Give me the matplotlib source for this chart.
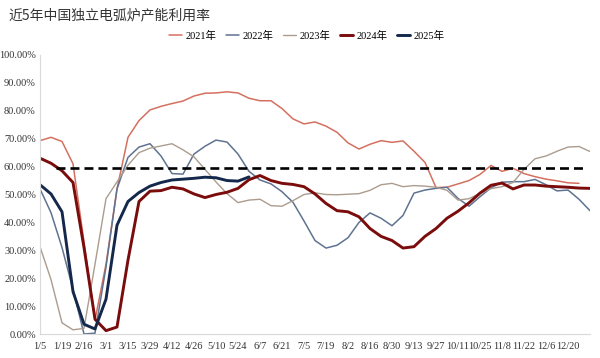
import matplotlib
matplotlib.use('Agg')
import matplotlib.pyplot as plt

# ---------------- data ----------------
categories = ['1/5', '1/12', '1/19', '1/26', '2/16', '2/23',
              '3/1', '3/8', '3/15', '3/22', '3/29', '4/5', '4/12', '4/19', '4/26',
              '5/3', '5/10', '5/17', '5/24', '5/31', '6/7', '6/14', '6/21', '6/28',
              '7/5', '7/12', '7/19', '7/26', '8/2', '8/9', '8/16', '8/23', '8/30',
              '9/6', '9/13', '9/20', '9/27', '10/4', '10/11', '10/18', '10/25',
              '11/1', '11/8', '11/15', '11/22', '11/29', '12/6', '12/13', '12/20',
              '12/27', '1/3']

tick_labels = ['1/5', '1/19', '2/16', '3/1', '3/15', '3/29', '4/12', '4/26', '5/10',
               '5/24', '6/7', '6/21', '7/5', '7/19', '8/2', '8/16', '8/30', '9/13',
               '9/27', '10/11', '10/25', '11/8', '11/22', '12/6', '12/20']

y2021 = [69.3, 70.5, 69.0, 61.0, 33.0, 5.0, 25.0, 52.0, 70.5, 76.5,
         80.3, 81.6, 82.6, 83.5, 85.3, 86.3, 86.4, 86.8, 86.4, 84.5,
         83.6, 83.6, 80.8, 77.1, 75.3, 76.0, 74.5, 72.3, 68.5, 66.3,
         68.0, 69.3, 68.7, 69.2, 65.5, 61.5, 52.5, 52.6, 53.8, 55.0,
         57.2, 60.4, 58.3, 59.4, 57.5, 56.4, 55.5, 54.9, 54.2, 54.0]

y2022 = [52.0, 43.5, 31.0, 16.0, 0.0, 0.3, 24.0, 52.0, 63.3, 67.0,
         68.2, 63.8, 57.5, 57.3, 64.5, 67.3, 69.5, 68.8, 64.5, 58.3,
         55.2, 53.8, 51.0, 47.2, 40.5, 33.5, 30.8, 31.8, 34.5, 40.0,
         43.4, 41.5, 38.8, 42.5, 50.5, 51.6, 52.2, 52.6, 48.6, 45.8,
         49.2, 52.4, 54.4, 54.6, 54.6, 55.4, 53.5, 51.3, 51.6, 48.3,
         44.2]

y2023 = [31.3, 19.5, 4.0, 1.5, 2.0, 25.0, 48.5, 54.5, 60.5, 65.0,
         66.6, 67.4, 68.2, 66.0, 63.5, 59.0, 54.5, 50.3, 47.1, 48.0,
         48.3, 46.0, 45.8, 47.8, 50.0, 50.6, 50.0, 49.9, 50.1, 50.3,
         51.5, 53.5, 54.0, 52.8, 53.2, 53.0, 52.6, 51.5, 48.0, 48.5,
         50.4, 52.1, 52.8, 54.3, 59.0, 62.8, 63.8, 65.5, 67.0, 67.2,
         65.4]

y2024 = [63.0, 61.2, 58.5, 54.3, 31.0, 5.3, 1.2, 2.5, 26.5, 47.5,
         51.2, 51.4, 52.6, 52.0, 50.2, 48.9, 50.0, 50.8, 52.2, 55.3,
         56.8, 55.0, 54.0, 53.6, 52.8, 50.2, 46.8, 44.2, 43.8, 42.0,
         37.8, 35.0, 33.5, 30.8, 31.3, 35.0, 37.8, 41.5, 44.0, 47.0,
         50.5, 53.3, 54.1, 52.0, 53.4, 53.4, 53.0, 52.8, 52.6, 52.3,
         52.2]

y2025 = [53.5, 50.2, 43.8, 15.2, 3.5, 1.8, 12.5, 39.0, 47.5, 50.7,
         53.0, 54.3, 55.2, 55.5, 55.8, 56.2, 56.0, 55.0, 54.8, 56.3]

avg_level = 59.4
avg_from, avg_to = 1.45, 49.7   # extent of the dashed reference line (category units)

series = [('2021年', y2021, '#d4705f', 1.1),
          ('2022年', y2022, '#5f7391', 1.1),
          ('2023年', y2023, '#ab9c8e', 1.0),
          ('2024年', y2024, '#7a0c0c', 2.1),
          ('2025年', y2025, '#14284c', 2.1)]

# ---------------- figure ----------------
serif = ['Liberation Serif', 'Noto Sans CJK SC']
fig = plt.figure(figsize=(6.0, 3.58), dpi=100)
ax = fig.add_axes([40/600, 1 - 334/358, 550/600, (334 - 55)/358])

for name, vals, col, lw in series:
    ax.plot(range(len(vals)), vals, color=col, lw=lw, label=name,
            solid_joinstyle='round', solid_capstyle='round')

ax.hlines(avg_level, avg_from, avg_to, colors='black', lw=1.9,
          linestyles=(0, (3.4, 1.9)), zorder=5)

ax.set_xlim(0, len(categories) - 1)
ax.set_ylim(0, 100)
ax.set_yticks(range(0, 101, 10))
ax.set_yticklabels([f'{v:.2f}%' for v in range(0, 101, 10)],
                   fontfamily=serif, fontsize=7.5, color='#333333')
ax.set_xticks([categories.index(t) for t in tick_labels])
ax.set_xticklabels(tick_labels, fontfamily=serif, fontsize=7.5, color='#333333')
ax.tick_params(axis='both', length=0)
ax.tick_params(axis='y', pad=3)
ax.tick_params(axis='x', pad=6)

for s in ['top', 'right']:
    ax.spines[s].set_visible(False)
for s in ['left', 'bottom']:
    ax.spines[s].set_color('#d9d9d9')
    ax.spines[s].set_linewidth(0.8)

fig.text(8/600, 1 - 15/358, '近5年中国独立电弧炉产能利用率', fontfamily=['Noto Sans CJK SC'],
         fontsize=10, color='#333333', va='center', ha='left')

fig.legend(loc='center', bbox_to_anchor=(307/600, 1 - 36/358), ncol=5, frameon=False,
           prop={'family': serif, 'size': 7.5}, handlelength=1.2, handletextpad=0.4,
           columnspacing=0.9, borderaxespad=0)

fig.savefig('out.png', dpi=100)
